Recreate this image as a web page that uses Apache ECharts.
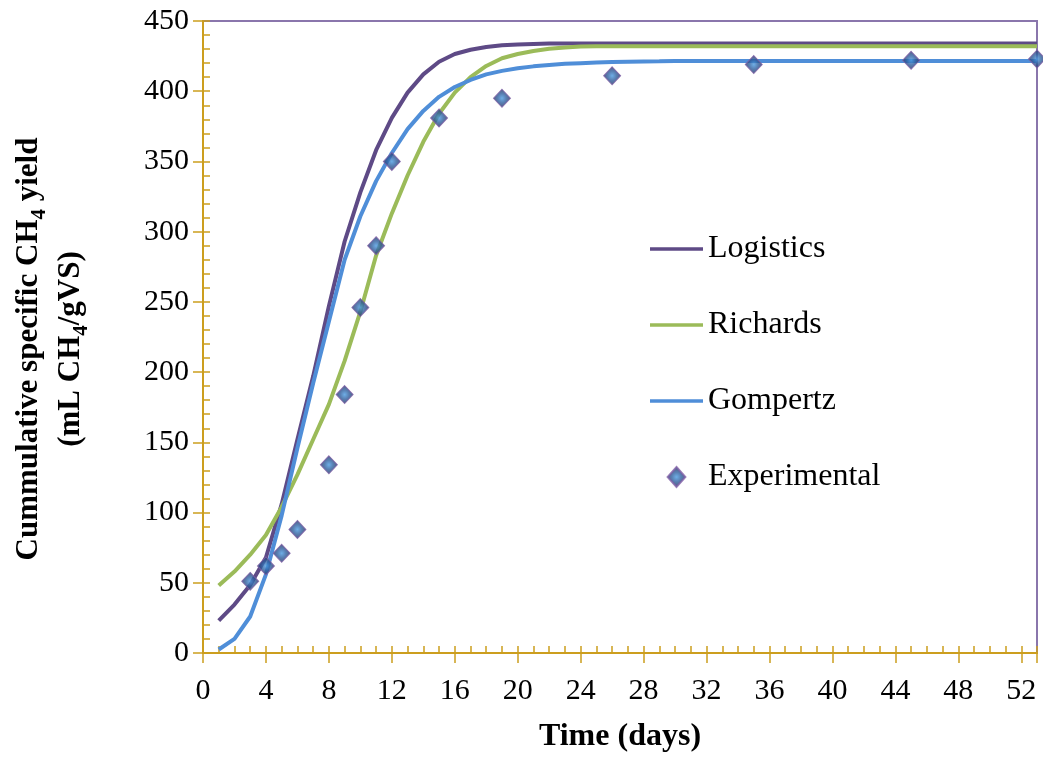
<!DOCTYPE html>
<html>
<head>
<meta charset="utf-8">
<script src="https://cdn.jsdelivr.net/npm/echarts@6/dist/echarts.min.js"></script>
<style>
  html, body { margin: 0; padding: 0; background: #fff; }
  #chart { width: 1043px; height: 758px; }
</style>
</head>
<body>
<div id="chart"></div>
<script>
// model curves, one value per day (day 1 .. 53)
const modelDays = [];
for (let d = 1; d <= 53; d++) modelDays.push(d);

const logistics = [
  23, 34.5, 48.5, 68, 106, 152, 197, 247, 293, 328,
  358, 381, 399, 412, 421, 426.5, 429.5, 431.5, 432.7, 433.3,
  433.7, 434, 434, 434, 434, 434, 434, 434, 434, 434,
  434, 434, 434, 434, 434, 434, 434, 434, 434, 434,
  434, 434, 434, 434, 434, 434, 434, 434, 434, 434,
  434, 434, 434
];
const richards = [
  48, 58, 70, 84, 104, 127, 152, 177, 208, 243,
  283, 313, 340, 364, 384, 399, 410, 418, 423.5, 426.5,
  428.7, 430.2, 431.2, 431.8, 432, 432, 432, 432, 432, 432,
  432, 432, 432, 432, 432, 432, 432, 432, 432, 432,
  432, 432, 432, 432, 432, 432, 432, 432, 432, 432,
  432, 432, 432
];
const gompertz = [
  2.5, 10, 26, 56, 98, 146, 192, 236, 280, 311,
  336, 356, 373, 386, 396, 403, 408, 412, 414.5, 416.3,
  417.7, 418.7, 419.5, 420, 420.5, 420.8, 421, 421.2, 421.3, 421.5,
  421.5, 421.5, 421.5, 421.5, 421.5, 421.5, 421.5, 421.5, 421.5, 421.5,
  421.5, 421.5, 421.5, 421.5, 421.5, 421.5, 421.5, 421.5, 421.5, 421.5,
  421.5, 421.5, 421.5
];

// measured points
const expDays = [3, 4, 5, 6, 8, 9, 10, 11, 12, 15, 19, 26, 35, 45, 53];
const expYield = [51, 62, 71, 88, 134, 184, 246, 290, 350, 381, 395, 411, 419, 422, 423];

const serif = "'Liberation Serif', 'Times New Roman', serif";
const gold = '#CC9E1E';
const lineIcon = 'path://M0,0 L60,0 L60,4 L0,4 Z';
const diamondIcon = 'path://M8,0 L16,9 L8,18 L0,9 Z';

const pairs = (xs, ys) => xs.map((x, i) => [x, ys[i]]);

const chart = echarts.init(document.getElementById('chart'), null, { renderer: 'canvas' });

const lineSeries = (name, values, color) => ({
  name: name,
  type: 'line',
  data: pairs(modelDays, values),
  symbol: 'none',
  smooth: false,
  lineStyle: { color: color, width: 4 },
  itemStyle: { color: color },
  z: 3
});

const option = {
  animation: false,
  backgroundColor: '#fff',
  grid: {
    left: 203, top: 21, width: 834, height: 632,
    show: true,
    borderColor: '#8A76AC',
    borderWidth: 2
  },
  legend: {
    orient: 'vertical',
    left: 645,
    top: 228,
    itemWidth: 53,
    itemHeight: 20,
    itemGap: 44,
    data: [
      { name: 'Logistics', icon: lineIcon },
      { name: 'Richards', icon: lineIcon },
      { name: 'Gompertz', icon: lineIcon },
      { name: 'Experimental', icon: diamondIcon }
    ],
    textStyle: { fontFamily: serif, fontSize: 32, color: '#000' }
  },
  xAxis: [{
    type: 'value',
    min: 0, max: 53, interval: 4,
    name: 'Time (days)',
    nameLocation: 'middle',
    nameGap: 68,
    nameTextStyle: { fontFamily: serif, fontSize: 32, fontWeight: 'bold', color: '#000' },
    axisLine: { onZero: false, lineStyle: { color: gold, width: 2 } },
    axisTick: { inside: true, length: 7, lineStyle: { color: gold, width: 1.5 } },
    minorTick: { show: true, splitNumber: 4, length: 7, lineStyle: { color: gold, width: 1.5 } },
    axisLabel: { fontFamily: serif, fontSize: 30, color: '#000', margin: 23,
      formatter: v => (v > 52 ? '' : v) },
    splitLine: { show: false }
  }, {
    // outward half of the crossing major ticks
    type: 'value', position: 'bottom',
    min: 0, max: 53, interval: 4,
    axisLine: { show: false },
    axisTick: { length: 10, lineStyle: { color: gold, width: 1.5 } },
    axisLabel: { show: false },
    splitLine: { show: false }
  }],
  yAxis: [{
    type: 'value',
    min: 0, max: 450, interval: 50,
    axisLine: { show: true, onZero: false, lineStyle: { color: gold, width: 2 } },
    axisTick: { show: true, inside: true, length: 7, lineStyle: { color: gold, width: 1.5 } },
    minorTick: { show: true, splitNumber: 5, length: 7, lineStyle: { color: gold, width: 1.5 } },
    axisLabel: { fontFamily: serif, fontSize: 30, color: '#000', margin: 14 },
    splitLine: { show: false }
  }, {
    type: 'value', position: 'left',
    min: 0, max: 450, interval: 50,
    axisLine: { show: false },
    axisTick: { show: true, length: 10, lineStyle: { color: gold, width: 1.5 } },
    axisLabel: { show: false },
    splitLine: { show: false }
  }],
  graphic: [{
    type: 'text',
    x: 50, y: 349,
    rotation: Math.PI / 2,
    style: {
      text: '{a|Cummulative specific CH}{s|4}{a| yield}\n{a|(mL CH}{s|4}{a|/gVS)}',
      align: 'center',
      verticalAlign: 'middle',
      fill: '#000',
      rich: {
        a: { fontFamily: serif, fontSize: 31, fontWeight: 'bold', lineHeight: 42 },
        s: { fontFamily: serif, fontSize: 21, fontWeight: 'bold', lineHeight: 21, verticalAlign: 'bottom' }
      }
    }
  }],
  series: [
    lineSeries('Logistics', logistics, '#5E4A86'),
    lineSeries('Richards', richards, '#9BBB59'),
    lineSeries('Gompertz', gompertz, '#4F8ED8'),
    {
      name: 'Experimental',
      type: 'scatter',
      data: pairs(expDays, expYield),
      symbol: 'diamond',
      symbolSize: [17, 18],
      itemStyle: {
        color: new echarts.graphic.RadialGradient(0.5, 0.5, 0.6, [
          { offset: 0, color: '#4A9AE0' },
          { offset: 0.4, color: '#2F5E9E' },
          { offset: 1, color: '#27264F' }
        ]),
        borderColor: '#7E5FA6',
        borderWidth: 1
      },
      z: 5
    }
  ]
};

chart.setOption(option);
</script>
</body>
</html>
